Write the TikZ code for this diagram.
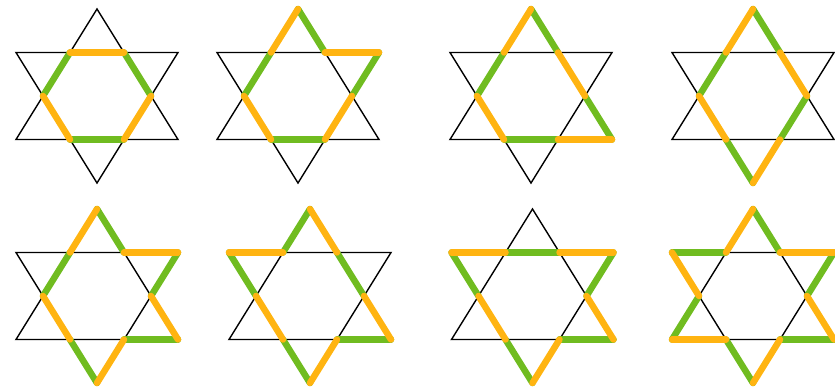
\documentclass[tikz,border=0pt]{standalone}
\usepackage{tikz}
\usepackage{xcolor}
\definecolor{segorange}{RGB}{255,180,17}
\definecolor{seggreen}{RGB}{112,188,32}

\tikzset{
  starline/.style={black, line width=1.4pt},
  orangeseg/.style={segorange, line width=6.5pt, line cap=round},
  greenseg/.style={seggreen, line width=6.5pt, line cap=round},
  starunits/.style={x=27pt,y=43.5pt}
}

% lattice points of one hexagram and its two triangles
\newcommand{\hexframe}{%
  \coordinate (A) at (0,2);
  \coordinate (B) at (3,1);
  \coordinate (C) at (3,-1);
  \coordinate (D) at (0,-2);
  \coordinate (E) at (-3,-1);
  \coordinate (F) at (-3,1);
  \coordinate (P1) at (1,1);
  \coordinate (P2) at (2,0);
  \coordinate (P3) at (1,-1);
  \coordinate (P4) at (-1,-1);
  \coordinate (P5) at (-2,0);
  \coordinate (P6) at (-1,1);
  \draw[starline] (A) -- (C) -- (E) -- cycle;
  \draw[starline] (D) -- (B) -- (F) -- cycle;
}

\begin{document}
\begin{tikzpicture}[x=1pt,y=-1pt]
\useasboundingbox (0,0) rectangle (835,389);

% top row
\begin{scope}[shift={(97,96)}, starunits]
  \hexframe
  \foreach \p/\q in {P1/P2, P3/P4, P5/P6} \draw[greenseg] (\p) -- (\q);
  \foreach \p/\q in {P6/P1, P2/P3, P4/P5} \draw[orangeseg] (\p) -- (\q);
\end{scope}

\begin{scope}[shift={(298,96)}, starunits]
  \hexframe
  \foreach \p/\q in {A/P1, B/P2, P3/P4, P5/P6} \draw[greenseg] (\p) -- (\q);
  \foreach \p/\q in {P6/A, P1/B, P2/P3, P4/P5} \draw[orangeseg] (\p) -- (\q);
\end{scope}

\begin{scope}[shift={(531,96)}, starunits]
  \hexframe
  \foreach \p/\q in {A/P1, P2/C, P3/P4, P5/P6} \draw[greenseg] (\p) -- (\q);
  \foreach \p/\q in {P6/A, P1/P2, C/P3, P4/P5} \draw[orangeseg] (\p) -- (\q);
\end{scope}

\begin{scope}[shift={(753,96)}, starunits]
  \hexframe
  \foreach \p/\q in {P6/P5, P4/D, P3/P2, P1/A} \draw[greenseg] (\p) -- (\q);
  \foreach \p/\q in {A/P6, P5/P4, D/P3, P2/P1} \draw[orangeseg] (\p) -- (\q);
\end{scope}

% bottom row
\begin{scope}[shift={(97,296)}, starunits]
  \hexframe
  \foreach \p/\q in {P6/P5, P4/D, P3/C, P2/B, P1/A} \draw[greenseg] (\p) -- (\q);
  \foreach \p/\q in {A/P6, P5/P4, D/P3, C/P2, B/P1} \draw[orangeseg] (\p) -- (\q);
\end{scope}

\begin{scope}[shift={(310,296)}, starunits]
  \hexframe
  \foreach \p/\q in {A/P6, F/P5, P4/D, P3/C, P2/P1} \draw[greenseg] (\p) -- (\q);
  \foreach \p/\q in {P6/F, P5/P4, D/P3, C/P2, P1/A} \draw[orangeseg] (\p) -- (\q);
\end{scope}

\begin{scope}[shift={(532.5,296)}, starunits]
  \hexframe
  \foreach \p/\q in {P6/P1, B/P2, C/P3, D/P4, P5/F} \draw[greenseg] (\p) -- (\q);
  \foreach \p/\q in {F/P6, P1/B, P2/C, P3/D, P4/P5} \draw[orangeseg] (\p) -- (\q);
\end{scope}

\begin{scope}[shift={(753,296)}, starunits]
  \hexframe
  \foreach \p/\q in {P6/F, P5/E, P4/D, P3/C, P2/B, P1/A} \draw[greenseg] (\p) -- (\q);
  \foreach \p/\q in {A/P6, F/P5, E/P4, D/P3, C/P2, B/P1} \draw[orangeseg] (\p) -- (\q);
\end{scope}
\end{tikzpicture}
\end{document}
